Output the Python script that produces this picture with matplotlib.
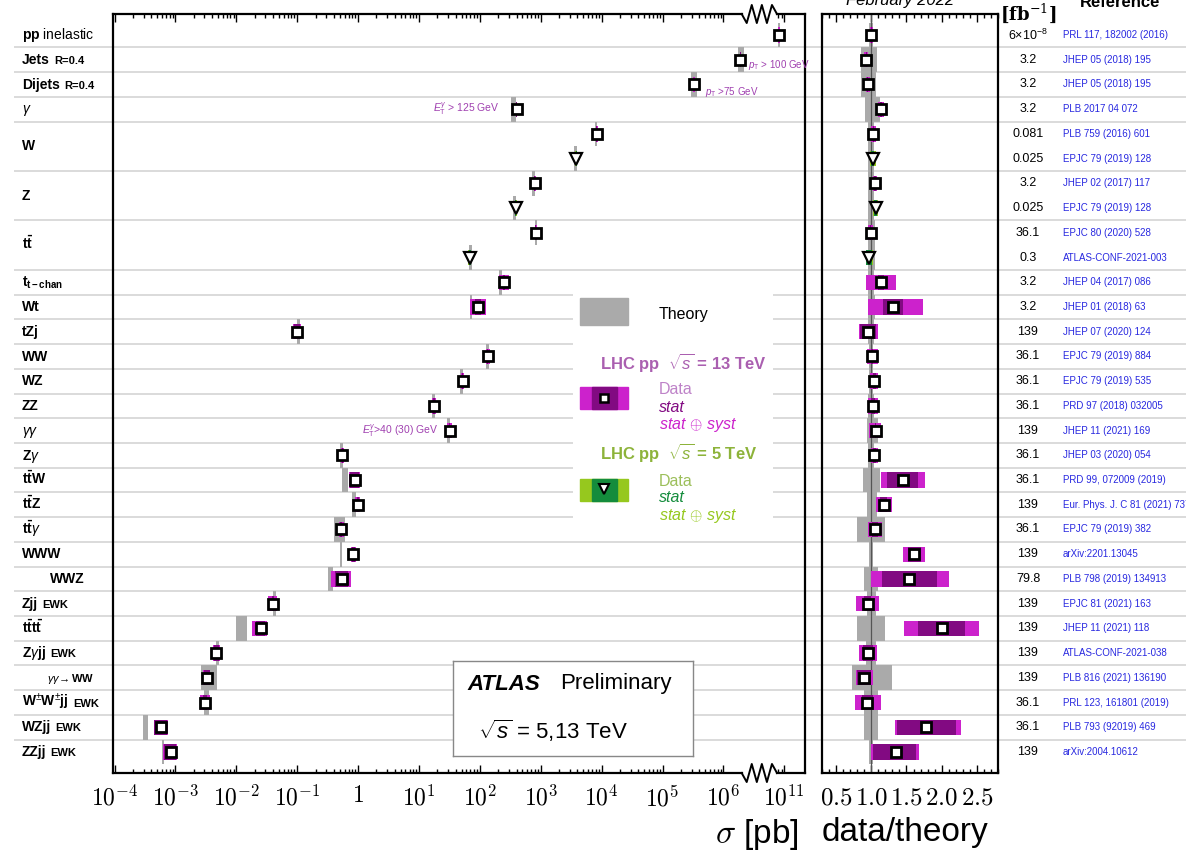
import numpy as np
import matplotlib
matplotlib.use("Agg")
import matplotlib.pyplot as plt

plt.rcParams['font.family'] = ['Liberation Sans', 'DejaVu Sans']
plt.rcParams['mathtext.fontset'] = 'custom'
plt.rcParams['mathtext.rm'] = 'Liberation Sans'
plt.rcParams['mathtext.it'] = 'Liberation Sans:italic'
plt.rcParams['mathtext.bf'] = 'Liberation Sans:bold'

# ---------------- data (one entry per measurement row, top to bottom) ----------------
sigma = np.array([8.2e10, 1.9e6, 3.3e5, 400, 8.3e3, 3.8e3, 800, 390, 830, 68,
                  250, 94, 0.10, 135, 52, 17.6, 32, 0.55, 0.89, 1.0,
                  0.53, 0.84, 0.55, 0.040, 0.025, 0.0047, 0.0033, 0.0031, 0.00059, 0.00085])
ratio = np.array([1.00, 0.93, 0.95, 1.14, 1.03, 1.02, 1.05, 1.06, 0.99, 0.97,
                  1.14, 1.31, 0.95, 1.01, 1.04, 1.02, 1.06, 1.04, 1.45, 1.18,
                  1.05, 1.61, 1.54, 0.95, 2.00, 0.95, 0.90, 0.94, 1.78, 1.35])
stat_lo = np.array([0.99, 0.92, 0.94, 1.13, 1.02, 1.00, 1.04, 1.04, 0.98, 0.93,
                    1.10, 1.16, 0.84, 0.99, 1.02, 0.99, 1.05, 1.02, 1.22, 1.13,
                    1.01, 1.52, 1.15, 0.90, 1.66, 0.88, 0.80, 0.87, 1.36, 1.03])
stat_hi = np.array([1.01, 0.94, 0.96, 1.15, 1.04, 1.04, 1.06, 1.08, 1.00, 1.01,
                    1.18, 1.45, 1.07, 1.03, 1.06, 1.05, 1.07, 1.06, 1.67, 1.23,
                    1.09, 1.70, 1.93, 1.00, 2.33, 1.03, 1.00, 1.02, 2.21, 1.63])
tot_lo = np.array([0.98, 0.90, 0.92, 1.10, 0.99, 0.98, 1.02, 1.02, 0.95, 0.92,
                   0.93, 0.95, 0.82, 0.94, 0.98, 0.95, 0.97, 0.99, 1.14, 1.07,
                   0.96, 1.45, 1.00, 0.79, 1.47, 0.83, 0.78, 0.77, 1.34, 1.00])
tot_hi = np.array([1.02, 0.96, 0.98, 1.18, 1.07, 1.06, 1.08, 1.10, 1.03, 1.02,
                   1.35, 1.73, 1.09, 1.09, 1.10, 1.09, 1.14, 1.09, 1.77, 1.29,
                   1.15, 1.76, 2.11, 1.11, 2.53, 1.08, 1.02, 1.14, 2.27, 1.68])
th_lo = np.array([0.97, 0.85, 0.85, 0.91, 0.96, 0.96, 0.96, 0.96, 0.95, 0.95,
                  0.96, 0.95, 0.96, 0.97, 0.97, 0.96, 0.94, 0.96, 0.88, 0.94,
                  0.80, 0.97, 0.90, 0.94, 0.80, 0.93, 0.72, 0.90, 0.90, 0.97])
th_hi = np.array([1.03, 1.08, 1.07, 1.12, 1.04, 1.04, 1.04, 1.04, 1.05, 1.05,
                  1.04, 1.05, 1.04, 1.03, 1.03, 1.04, 1.09, 1.04, 1.12, 1.08,
                  1.19, 1.03, 1.10, 1.06, 1.19, 1.07, 1.29, 1.10, 1.10, 1.03])
is_5tev = np.array([False] * 30)
is_5tev[[5, 7, 9]] = True

lumi = [r'6$\times$10$^{-8}$', '3.2', '3.2', '3.2', '0.081', '0.025', '3.2', '0.025', '36.1', '0.3',
        '3.2', '3.2', '139', '36.1', '36.1', '36.1', '139', '36.1', '36.1', '139',
        '36.1', '139', '79.8', '139', '139', '139', '139', '36.1', '36.1', '139']
refs = ['PRL 117, 182002 (2016)', 'JHEP 05 (2018) 195', 'JHEP 05 (2018) 195', 'PLB 2017 04 072',
        'PLB 759 (2016) 601', 'EPJC 79 (2019) 128', 'JHEP 02 (2017) 117', 'EPJC 79 (2019) 128',
        'EPJC 80 (2020) 528', 'ATLAS-CONF-2021-003', 'JHEP 04 (2017) 086', 'JHEP 01 (2018) 63',
        'JHEP 07 (2020) 124', 'EPJC 79 (2019) 884', 'EPJC 79 (2019) 535', 'PRD 97 (2018) 032005',
        'JHEP 11 (2021) 169', 'JHEP 03 (2020) 054', 'PRD 99, 072009 (2019)',
        'Eur. Phys. J. C 81 (2021) 737', 'EPJC 79 (2019) 382', 'arXiv:2201.13045',
        'PLB 798 (2019) 134913', 'EPJC 81 (2021) 163', 'JHEP 11 (2021) 118', 'ATLAS-CONF-2021-038',
        'PLB 816 (2021) 136190', 'PRL 123, 161801 (2019)', 'PLB 793 (92019) 469', 'arXiv:2004.10612']

# process labels (one per group) and number of measurement rows per group
group_labels = [r'$\mathbf{pp}$ inelastic', 'Jets', 'Dijets', r'$\gamma$', 'W', 'Z',
                r'$\mathbf{t\bar{t}}$', r'$\mathbf{t_{t-chan}}$', 'Wt', 'tZj', 'WW', 'WZ', 'ZZ',
                r'$\gamma\gamma$', r'Z$\gamma$', r'$\mathbf{t\bar{t}W}$', r'$\mathbf{t\bar{t}Z}$',
                r'$\mathbf{t\bar{t}}\gamma$', 'WWW', 'WWZ', 'Zjj', r'$\mathbf{t\bar{t}t\bar{t}}$',
                r'Z$\gamma$jj', r'$\gamma\gamma\!\rightarrow$WW', r'W$^{\pm}$W$^{\pm}$jj', 'WZjj', 'ZZjj']
group_suffix = ['', 'R=0.4', 'R=0.4', '', '', '', '', '', '', '', '', '', '', '', '', '', '', '',
                '', '', 'EWK', '', 'EWK', '', 'EWK', 'EWK', 'EWK']
group_size = [1, 1, 1, 1, 2, 2, 2] + [1] * 20

# ---------------- layout helpers ----------------
W, H = 1186, 850
fig = plt.figure(figsize=(W / 100, H / 100), dpi=100)


def px_axes(x0, y0, x1, y1, **kw):
    return fig.add_axes([x0 / W, 1 - y1 / H, (x1 - x0) / W, (y1 - y0) / H], **kw)


def fwd(v):
    # log10 axis with a break between 10^6.5 and 10^10.5
    lv = np.log10(np.clip(np.asarray(v, dtype=float), 1e-30, None))
    return np.where(lv <= 6.5, lv, np.where(lv >= 10.5, lv - 4.0, 6.5))


def inv(p):
    p = np.asarray(p, dtype=float)
    return np.where(p <= 6.5, 10.0 ** p, 10.0 ** (p + 4.0))


n = len(sigma)
rows = np.arange(n)
ylim = (n - 1 + 0.849, -0.849)

mag_light, mag_dark = '#cc22cc', '#820a82'
grn_light, grn_dark = '#96c81e', '#148c3c'
gray = '#aaaaaa'
light_c = np.where(is_5tev, grn_light, mag_light)
dark_c = np.where(is_5tev, grn_dark, mag_dark)

# background: separators, labels, table
ax_bg = px_axes(0, 14, W, 773, zorder=0)
ax_bg.set_xlim(0, W)
ax_bg.set_ylim(*ylim)
ax_bg.axis('off')

start = np.concatenate([[0], np.cumsum(group_size)[:-1]])
centers = start + (np.array(group_size) - 1) / 2
for b in np.cumsum(group_size)[:-1] - 0.5:
    ax_bg.plot([15, W], [b, b], color='#dadada', lw=1.4, zorder=0)

for lab, suf, yc in zip(group_labels, group_suffix, centers):
    x0, fs = 22, 10
    if lab == 'WWZ':
        x0 = 50
    if 'rightarrow' in lab:
        x0, fs = 47, 8
    weight = 'normal' if 'inelastic' in lab else 'bold'
    t = ax_bg.text(x0, yc + 0.17, lab, fontsize=fs, fontweight=weight, va='baseline', ha='left')
    if suf:
        ax_bg.annotate(suf, xy=(1, yc + 0.17), xycoords=(t, ax_bg.transData),
                       xytext=(3, 0), textcoords='offset points',
                       fontsize=8, fontweight='bold', va='baseline')

for r in rows:
    ax_bg.text(1028, r, lumi[r], fontsize=9, ha='center', va='center')
    ax_bg.text(1063, r, refs[r], fontsize=7, color='#2828e0', ha='left', va='center')

# ---------------- main panel ----------------
ax = px_axes(113, 14, 805, 773, zorder=1)
ax.set_facecolor('none')
ax.set_xscale('function', functions=(fwd, inv))
ax.set_xlim(10 ** -4.025, 10 ** 11.34)
ax.set_ylim(*ylim)

theory = sigma / ratio
t_lo = theory * np.minimum(th_lo, 0.95)
t_hi = theory * np.maximum(th_hi, 1.05)
ax.barh(rows, t_hi - t_lo, left=t_lo, height=1.0, color=gray, zorder=1)

d_lo = sigma * np.minimum(tot_lo / ratio, 0.97)
d_hi = sigma * np.maximum(tot_hi / ratio, 1.03)
ax.barh(rows, d_hi - d_lo, left=d_lo, height=0.62, color=light_c, zorder=2)
s_lo = sigma * np.minimum(stat_lo / ratio, 0.985)
s_hi = sigma * np.maximum(stat_hi / ratio, 1.015)
ax.barh(rows, s_hi - s_lo, left=s_lo, height=0.62, color=dark_c, zorder=3)

ax.plot(sigma[~is_5tev], rows[~is_5tev], 's', ms=7, mfc='white', mec='black', mew=2, zorder=4)
ax.plot(sigma[is_5tev], rows[is_5tev], 'v', ms=8, mfc='white', mec='black', mew=1.6, zorder=4)

ann_c = '#a040b0'
ax.text(2.5e6, 1.2, r'$p_{\mathrm{T}}$ > 100 GeV', fontsize=7, color=ann_c, va='center')
ax.text(5.0e5, 2.3, r'$p_{\mathrm{T}}$ >75 GeV', fontsize=7, color=ann_c, va='center')
ax.text(206, 3, r'$E_{\mathrm{T}}^{\gamma}$ > 125 GeV', fontsize=7.5, color=ann_c, va='center', ha='right')
ax.text(1.16, 16, r'$E_{\mathrm{T}}^{\gamma}$>40 (30) GeV', fontsize=7.5, color=ann_c, va='center')

major = [1e-4, 1e-3, 1e-2, 1e-1, 1, 1e1, 1e2, 1e3, 1e4, 1e5, 1e6, 1e11]
major_lab = [r'$10^{-4}$', r'$10^{-3}$', r'$10^{-2}$', r'$10^{-1}$', r'$1$', r'$10^{1}$', r'$10^{2}$',
             r'$10^{3}$', r'$10^{4}$', r'$10^{5}$', r'$10^{6}$', r'$10^{11}$']
ax.set_xticks(major, major_lab, math_fontfamily='cm', fontsize=17)
minor = [k * 10.0 ** d for d in range(-4, 7) for k in range(2, 10) if fwd(k * 10.0 ** d) < 6.28]
minor += [8e10, 9e10]
ax.set_xticks(minor, minor=True)
ax.set_yticks([])
ax.tick_params(axis='x', which='both', direction='in', top=True, width=1)
ax.tick_params(axis='x', which='major', length=6, pad=9)
ax.tick_params(axis='x', which='minor', length=3)
for s in ['left', 'right']:
    ax.spines[s].set_linewidth(1.6)
ax.spines['top'].set_visible(False)
ax.spines['bottom'].set_visible(False)

# axis lines with the break zigzag
trans = ax.get_xaxis_transform()
zig_p = np.linspace(6.30, 6.88, 8)
zig_o = np.array([0, -1, 1, -1, 1, -1, 1, 0]) * 0.0119
for yb in [0, 1]:
    ax.plot(inv([-4.025, 6.30]), [yb, yb], color='black', lw=1.6, transform=trans, clip_on=False)
    ax.plot(inv([6.88, 7.34]), [yb, yb], color='black', lw=1.6, transform=trans, clip_on=False)
    ax.plot(inv(zig_p), yb + zig_o, color='black', lw=1.4, transform=trans, clip_on=False)

# ---------------- ratio panel ----------------
ax_r = px_axes(822, 14, 998, 773, zorder=1)
ax_r.set_facecolor('none')
ax_r.set_xlim(0.3, 2.8)
ax_r.set_ylim(*ylim)
ax_r.barh(rows, th_hi - th_lo, left=th_lo, height=1.0, color=gray, zorder=1)
ax_r.axvline(1.0, color='#555555', lw=0.9, zorder=2)
ax_r.barh(rows, tot_hi - tot_lo, left=tot_lo, height=0.62, color=light_c, zorder=3)
ax_r.barh(rows, stat_hi - stat_lo, left=stat_lo, height=0.62, color=dark_c, zorder=4)
ax_r.plot(ratio[~is_5tev], rows[~is_5tev], 's', ms=7, mfc='white', mec='black', mew=2, zorder=5)
ax_r.plot(ratio[is_5tev], rows[is_5tev], 'v', ms=8, mfc='white', mec='black', mew=1.6, zorder=5)
ax_r.set_xticks([0.5, 1.0, 1.5, 2.0, 2.5], [r'$0.5$', r'$1.0$', r'$1.5$', r'$2.0$', r'$2.5$'],
                math_fontfamily='cm', fontsize=18)
ax_r.set_xticks(np.round(np.arange(0.3, 2.81, 0.1), 2), minor=True)
ax_r.set_yticks([])
ax_r.tick_params(axis='x', which='both', direction='in', top=True, width=1)
ax_r.tick_params(axis='x', which='major', length=6, pad=9)
ax_r.tick_params(axis='x', which='minor', length=3)
for s in ax_r.spines.values():
    s.set_linewidth(1.6)

# ---------------- legend ----------------
ax_l = px_axes(573, 284, 773, 532, zorder=3)
ax_l.set_xlim(573, 773)
ax_l.set_ylim(532, 284)
ax_l.set_xticks([])
ax_l.set_yticks([])
for s in ax_l.spines.values():
    s.set_visible(False)
ax_l.add_patch(plt.Rectangle((580, 298), 48, 27, color=gray))
ax_l.text(659, 315, 'Theory', fontsize=11.5, va='center')
ax_l.text(600, 362, r'LHC pp  $\sqrt{s}$ = 13 TeV', fontsize=12, fontweight='bold', color='#aa5fb0', va='center')
ax_l.add_patch(plt.Rectangle((580, 387), 48, 22, color=mag_light))
ax_l.add_patch(plt.Rectangle((592, 387), 25, 22, color=mag_dark))
ax_l.plot([604], [398], 's', ms=6, mfc='white', mec='black', mew=1.8)
ax_l.text(659, 390, 'Data', fontsize=11.5, color='#be82c8', va='center')
ax_l.text(659, 408, 'stat', fontsize=11.5, color=mag_dark, style='italic', va='center')
ax_l.text(659, 425, r'stat$\,\oplus\,$syst', fontsize=11.5, color=mag_light, style='italic', va='center')
ax_l.text(600, 453, r'LHC pp  $\sqrt{s}$ = 5 TeV', fontsize=12, fontweight='bold', color='#8db33a', va='center')
ax_l.add_patch(plt.Rectangle((580, 479), 48, 22, color=grn_light))
ax_l.add_patch(plt.Rectangle((592, 479), 25, 22, color=grn_dark))
ax_l.plot([604], [489], 'v', ms=7, mfc='white', mec='black', mew=1.5)
ax_l.text(659, 481, 'Data', fontsize=11.5, color='#9cbf5a', va='center')
ax_l.text(659, 498, 'stat', fontsize=11.5, color=grn_dark, style='italic', va='center')
ax_l.text(659, 516, r'stat$\,\oplus\,$syst', fontsize=11.5, color=grn_light, style='italic', va='center')

# ---------------- ATLAS box ----------------
ax_a = px_axes(453, 661, 693, 756, zorder=3)
ax_a.set_xlim(453, 693)
ax_a.set_ylim(756, 661)
ax_a.set_xticks([])
ax_a.set_yticks([])
for s in ax_a.spines.values():
    s.set_color('#888888')
    s.set_linewidth(1)
ax_a.text(467, 684, 'ATLAS', fontsize=16, fontweight='bold', style='italic', va='center')
ax_a.text(560, 684, 'Preliminary', fontsize=16, va='center')
ax_a.text(478, 731, r'$\sqrt{s}$ = 5,13 TeV', fontsize=16, va='center')

# ---------------- titles / axis labels ----------------
fig.text(799 / W, 1 - 834 / H, r'$\sigma$ [pb]', ha='right', va='center', fontsize=24, math_fontfamily='cm')
fig.text(905 / W, 1 - 832 / H, 'data/theory', ha='center', va='center', fontsize=24)
fig.text(900 / W, 1 - 5 / H, 'February 2022', ha='center', va='baseline', fontsize=12, style='italic')
fig.text(1120 / W, 1 - 7 / H, 'Reference', ha='center', va='baseline', fontsize=12, fontweight='bold')
fig.text(1028 / W, 1 - 13 / H, r'[fb$^{-1}$]', ha='center', va='center', fontsize=13,
         fontweight='bold', family='DejaVu Serif', math_fontfamily='dejavuserif')
fig.text(1022 / W, 1 + 9 / H, r'$\int\mathcal{L}\,dt$', ha='center', va='baseline', fontsize=13)

fig.savefig('out.png', dpi=100)
